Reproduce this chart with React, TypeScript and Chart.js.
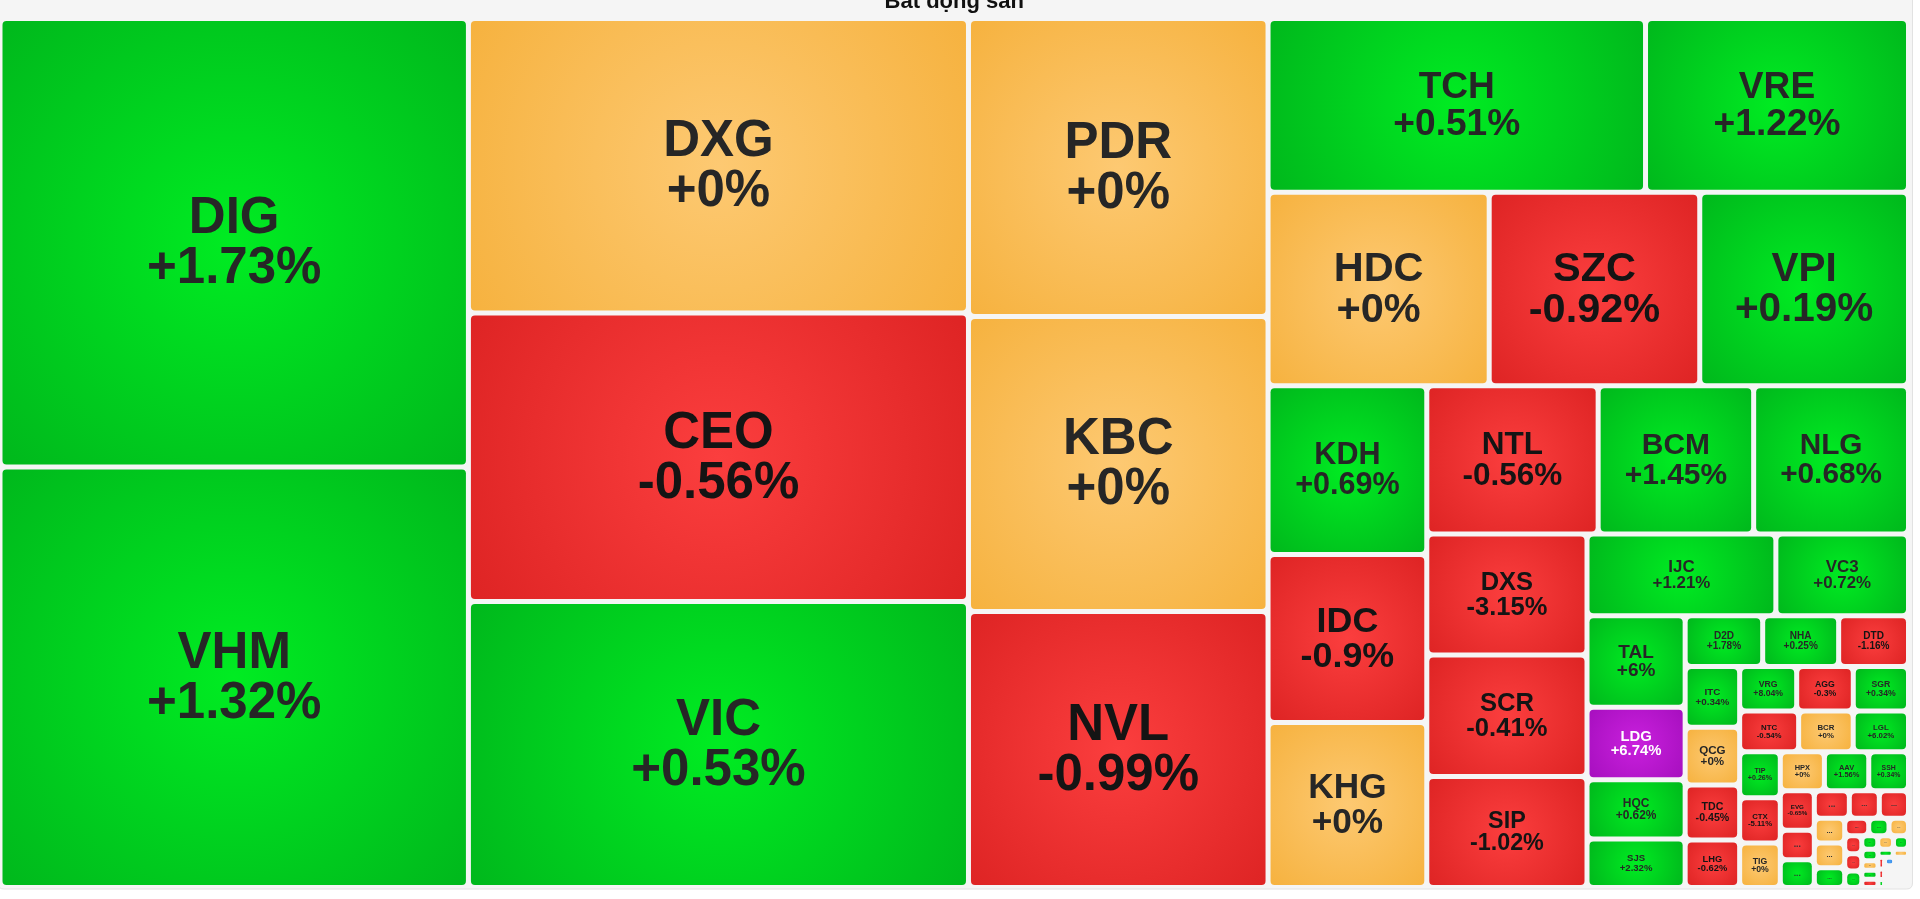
import React, { useEffect, useRef } from "react";
import { Chart, registerables } from "chart.js";

Chart.register(...registerables);

const TITLE = "Bất động sản";

const tickers = [
  "DIG", "VHM", "DXG", "CEO", "VIC", "PDR", "KBC", "NVL", "TCH", "VRE",
  "HDC", "SZC", "VPI", "KDH", "IDC", "KHG", "NTL", "BCM", "NLG", "DXS",
  "SCR", "SIP", "IJC", "VC3", "TAL", "LDG", "HQC", "SJS", "D2D", "NHA",
  "DTD", "ITC", "QCG", "TDC", "LHG", "VRG", "AGG", "SGR", "NTC", "BCR",
  "LGL", "TIP", "CTX", "TIG", "HPX", "AAV", "SSH", "EVG",
  "...", "...", "...", "...", "...", "...", "...", "...", "...", "...",
  "...", "...", "...", "...", "...", "...", "...", "...", "...", "...",
  "...", "...", "...", "...", "...", "...", "...", "...", "...", "...",
  "...", "...", "...", "...", "...", "...", "...", "...", "...", "...",
  "...", "...",
];

// relative market capitalisation (cell area)
const marketCap = [
  210.1, 197.0, 147.3, 144.3, 143.0, 89.25, 88.4, 82.7, 65.6, 45.7,
  42.8, 40.75, 40.4, 26.8, 26.65, 26.2, 25.4, 23.05, 22.95, 19.4,
  19.45, 17.8, 15.45, 10.85, 8.97, 7.12, 5.82, 4.76, 3.93, 3.85,
  3.54, 3.31, 3.15, 3.0, 2.59, 2.54, 2.52, 2.46, 2.4, 2.22,
  2.25, 1.87, 1.84, 1.81, 1.72, 1.73, 1.55, 1.35,
  1.0, 0.945, 0.963, 0.825, 0.803, 0.754, 0.751, 0.602, 0.42, 0.355,
  0.341, 0.308, 0.296, 0.282, 0.216, 0.212, 0.203, 0.188, 0.154, 0.146,
  0.133, 0.122, 0.122, 0.078, 0.068, 0.052, 0.087, 0.024, 0.024, 0.024,
  0.024, 0.024, 0.052, 0.052, 0.052, 0.052, 0.052, 0.052, 0.052, 0.052,
  0.052, 0.052,
];

// price change, %
const changePct = [
  1.73, 1.32, 0, -0.56, 0.53, 0, 0, -0.99, 0.51, 1.22,
  0, -0.92, 0.19, 0.69, -0.9, 0, -0.56, 1.45, 0.68, -3.15,
  -0.41, -1.02, 1.21, 0.72, 6, 6.74, 0.62, 2.32, 1.78, 0.25,
  -1.16, 0.34, 0, -0.45, -0.62, 8.04, -0.3, 0.34, -0.54, 0,
  6.02, 0.26, -5.11, 0, 0, 1.56, 0.34, -0.65,
  -0.5, 0.5, -0.5, -0.5, -0.5, 0, 0, 0.5, -0.5, 0.5,
  0, -0.5, -0.5, 0.5, 0.5, 0, 0.5, 0.5, 0, 0.5,
  -0.5, 0.5, 0, -0.5, -0.5, 0.5, -6.9, -0.5, 0.5, 0,
  -0.5, 0.5, 0, 0, 0, 0, 0, 0, 0, 0,
  0, 0,
];

// "ceil" = ceiling price, "floor" = floor price, "" = normal
const priceState = [
  "", "", "", "", "", "", "", "", "", "",
  "", "", "", "", "", "", "", "", "", "",
  "", "", "", "", "", "ceil", "", "", "", "",
  "", "", "", "", "", "", "", "", "", "",
  "", "", "", "", "", "", "", "",
  "", "", "", "", "", "", "", "", "", "",
  "", "", "", "", "", "", "", "", "", "",
  "", "", "", "", "", "", "floor", "", "", "",
  "", "", "", "", "", "", "", "", "", "",
  "", "",
];

// number of stocks in each strip of the (re)squarified layout, in order
const stripSizes = [2, 3, 3, 2, 3, 3, 3, 3, 2, 4, 3, 4, 3, 3, 3, 3, 3, 3, 3, 3, 3, 3, 4, 2, 3, 6, 10];

const SPAN_X = 1908.5;
const SPAN_Y = 869;
const FONT = '"Liberation Sans", Arial, Helvetica, sans-serif';

type Rect = { x0: number; y0: number; x1: number; y1: number };

// strips are laid along the shorter side of the remaining rectangle
function stripLayout(values: number[], strips: number[], X0: number, Y0: number, X1: number, Y1: number): Rect[] {
  const out: Rect[] = new Array(values.length);
  let x0 = X0, y0 = Y0;
  const x1 = X1, y1 = Y1;
  let remaining = values.reduce((a, b) => a + b, 0);
  let i = 0;
  for (const count of strips) {
    const idxs: number[] = [];
    for (let k = 0; k < count && i + k < values.length; k++) idxs.push(i + k);
    i += count;
    const sum = idxs.reduce((s, j) => s + values[j], 0);
    const dx = x1 - x0, dy = y1 - y0;
    if (dx < dy) {
      const ny = remaining ? y0 + (dy * sum) / remaining : y1;
      let x = x0;
      for (const j of idxs) {
        const w = (dx * values[j]) / sum;
        out[j] = { x0: x, y0: y0, x1: x + w, y1: ny };
        x += w;
      }
      y0 = ny;
    } else {
      const nx = remaining ? x0 + (dx * sum) / remaining : x1;
      let y = y0;
      for (const j of idxs) {
        const h = (dy * values[j]) / sum;
        out[j] = { x0: x0, y0: y, x1: nx, y1: y + h };
        y += h;
      }
      x0 = nx;
    }
    remaining -= sum;
  }
  return out;
}

function palette(i: number): { c: string; e: string; t: string } {
  const st = priceState[i];
  const v = changePct[i];
  if (st === "ceil") return { c: "#c920dd", e: "#a70fbf", t: "#ffffff" };
  if (st === "floor") return { c: "#52a6f6", e: "#2f86e6", t: "#ffffff" };
  if (v > 0) return { c: "#00ec22", e: "#00b81c", t: "#262626" };
  if (v < 0) return { c: "#fb3e3e", e: "#de2424", t: "#141414" };
  return { c: "#fdc972", e: "#f6b23f", t: "#262626" };
}

function fmtPct(v: number): string {
  return (v >= 0 ? "+" : "") + String(v) + "%";
}

function roundRect(ctx: CanvasRenderingContext2D, x: number, y: number, w: number, h: number, r: number) {
  ctx.beginPath();
  ctx.moveTo(x + r, y);
  ctx.lineTo(x + w - r, y);
  ctx.quadraticCurveTo(x + w, y, x + w, y + r);
  ctx.lineTo(x + w, y + h - r);
  ctx.quadraticCurveTo(x + w, y + h, x + w - r, y + h);
  ctx.lineTo(x + r, y + h);
  ctx.quadraticCurveTo(x, y + h, x, y + h - r);
  ctx.lineTo(x, y + r);
  ctx.quadraticCurveTo(x, y, x + r, y);
  ctx.closePath();
}

const treemapPlugin = {
  id: "treemapCells",
  beforeDraw(chart: any) {
    const ctx: CanvasRenderingContext2D = chart.ctx;
    const { width, height } = chart;
    ctx.save();
    ctx.fillStyle = "#ffffff";
    ctx.fillRect(0, 0, width, height);
    roundRect(ctx, -2, -20, 1914.5, 909, 6);
    ctx.fillStyle = "#f5f5f5";
    ctx.fill();
    ctx.strokeStyle = "#e2e2e2";
    ctx.lineWidth = 1;
    ctx.stroke();
    const ca = chart.chartArea;
    ctx.fillStyle = "#111111";
    ctx.font = `bold 22px ${FONT}`;
    ctx.textAlign = "center";
    ctx.textBaseline = "alphabetic";
    ctx.fillText(TITLE, (ca.left + ca.right) / 2, 8);
    ctx.restore();
  },
  afterDatasetsDraw(chart: any) {
    const ctx: CanvasRenderingContext2D = chart.ctx;
    const xs = chart.scales.x;
    const ys = chart.scales.y;
    const rects = stripLayout(marketCap, stripSizes, 0, 0, SPAN_X, SPAN_Y);
    ctx.save();
    rects.forEach((r, i) => {
      if (!r) return;
      const px0 = xs.getPixelForValue(r.x0);
      const px1 = xs.getPixelForValue(r.x1);
      const py0 = ys.getPixelForValue(r.y0);
      const py1 = ys.getPixelForValue(r.y1);
      const inset = 2.5;
      const x = px0 + inset, y = py0 + inset;
      const w = px1 - px0 - 2 * inset, h = py1 - py0 - 2 * inset;
      if (w < 1 || h < 1) return;
      const col = palette(i);
      const cx = x + w / 2, cy = y + h / 2;
      const grad = ctx.createRadialGradient(cx, cy, 0, cx, cy, Math.hypot(w, h) / 2);
      grad.addColorStop(0, col.c);
      grad.addColorStop(1, col.e);
      const rad = Math.min(4, w / 3, h / 3);
      roundRect(ctx, x, y, w, h, rad);
      ctx.fillStyle = grad;
      ctx.fill();

      ctx.fillStyle = col.t;
      ctx.textAlign = "center";
      const name = tickers[i];
      const pct = fmtPct(changePct[i]);
      ctx.font = `bold 100px ${FONT}`;
      const longest = Math.max(ctx.measureText(name).width, ctx.measureText(pct).width) / 100;
      const f = Math.min(51, 0.22 * h, (0.68 * w) / longest);
      if (name !== "..." && f >= 5.5) {
        ctx.font = `bold ${f}px ${FONT}`;
        ctx.textBaseline = "alphabetic";
        const b1 = cy - 0.19 * f;
        ctx.fillText(name, cx, b1);
        ctx.fillText(pct, cx, b1 + 0.98 * f);
      } else if (w >= 7 && h >= 4) {
        const fs = Math.max(3, Math.min(9, h * 0.38, w * 0.3));
        ctx.font = `bold ${fs}px ${FONT}`;
        ctx.textBaseline = "middle";
        ctx.fillStyle = col.t === "#ffffff" ? "#ffffff" : "#333333";
        ctx.fillText("...", cx, cy);
      }
    });
    ctx.restore();
  },
};

export default function App() {
  const canvasRef = useRef<HTMLCanvasElement | null>(null);

  useEffect(() => {
    document.body.style.margin = "0";
    const canvas = canvasRef.current;
    if (!canvas) return;
    const chart = new Chart(canvas, {
      type: "scatter",
      data: { datasets: [{ data: [] }] },
      options: {
        animation: false,
        responsive: true,
        maintainAspectRatio: false,
        layout: { padding: { left: 0, right: 11.5, top: 18.5, bottom: 11.5 } },
        scales: {
          x: { type: "linear", min: 0, max: SPAN_X, display: false },
          y: { type: "linear", min: 0, max: SPAN_Y, reverse: true, display: false },
        },
        plugins: {
          legend: { display: false },
          tooltip: { enabled: false },
          title: { display: false },
        },
      },
      plugins: [treemapPlugin],
    } as any);
    return () => chart.destroy();
  }, []);

  return (
    <div style={{ position: "fixed", left: 0, top: 0, width: "1920px", height: "899px" }}>
      <canvas ref={canvasRef} />
    </div>
  );
}
